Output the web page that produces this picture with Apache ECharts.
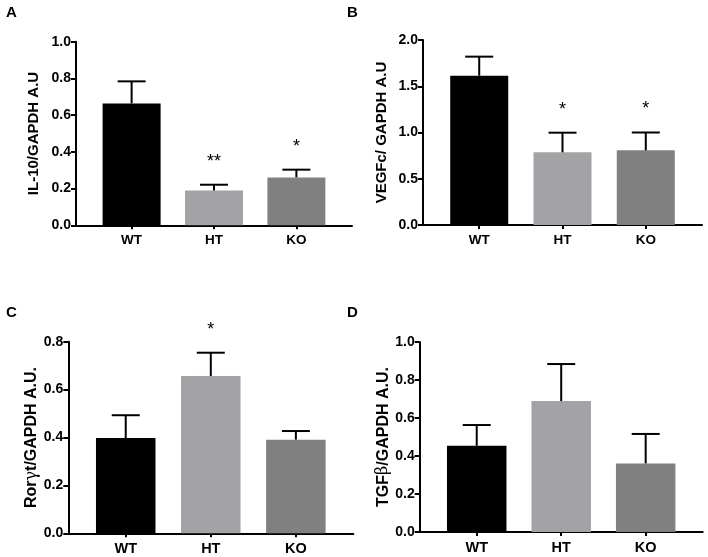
<!DOCTYPE html>
<html>
<head>
<meta charset="utf-8">
<script src="https://cdn.jsdelivr.net/npm/echarts@6/dist/echarts.min.js"></script>
<style>html,body{margin:0;padding:0;background:#fff}#c{width:708px;height:557px}</style>
</head>
<body>
<div id="c"></div>
<script>
const categories = ['WT', 'HT', 'KO'];
const barColors = ['#000000', '#a3a3a7', '#808080'];

const il10Mean = [0.664, 0.190, 0.261];
const il10Sem = [0.120, 0.031, 0.042];
const il10Stars = ['', '**', '*'];

const vegfMean = [1.614, 0.786, 0.807];
const vegfSem = [0.206, 0.212, 0.193];
const vegfStars = ['', '*', '*'];

const rorMean = [0.398, 0.657, 0.391];
const rorSem = [0.095, 0.097, 0.036];
const rorStars = ['', '*', ''];

const tgfMean = [0.454, 0.689, 0.361];
const tgfSem = [0.109, 0.195, 0.155];
const tgfStars = ['', '', ''];

const FONT = 'Liberation Sans, Arial, sans-serif';

const panels = [
  { letter: 'A', mean: il10Mean, sem: il10Sem, stars: il10Stars, max: 1.0, interval: 0.2,
    name: '{b|IL-10/GAPDH A.U}', grid: { left: 76, top: 41.7, width: 276, height: 183.6 },
    barWidth: 58, cap: 28, fs: 14, cfs: 13.5, tfs: 15, nameGap: 35, lx: 6, ly: 5 },
  { letter: 'B', mean: vegfMean, sem: vegfSem, stars: vegfStars, max: 2.0, interval: 0.5,
    name: '{b|VEGFc/ GAPDH A.U}', grid: { left: 423, top: 40, width: 279, height: 185 },
    barWidth: 58, cap: 28, fs: 14, cfs: 13.5, tfs: 15, nameGap: 34, lx: 347, ly: 5 },
  { letter: 'C', mean: rorMean, sem: rorSem, stars: rorStars, max: 0.8, interval: 0.2,
    name: '{b|Ror}{g|γ}{b|t/GAPDH A.U.}', grid: { left: 68.3, top: 341.7, width: 285, height: 191.6 },
    barWidth: 59.5, cap: 28, fs: 14, cfs: 14.5, tfs: 16, nameGap: 28, lx: 6, ly: 305 },
  { letter: 'D', mean: tgfMean, sem: tgfSem, stars: tgfStars, max: 1.0, interval: 0.2,
    name: '{b|TGF}{g|β}{b|/GAPDH A.U.}', grid: { left: 419.7, top: 342, width: 283, height: 190 },
    barWidth: 59.5, cap: 28, fs: 14, cfs: 14.5, tfs: 16, nameGap: 26, lx: 347, ly: 305 }
];

const PAD = 0.675;
const option = {
  animation: false,
  backgroundColor: '#ffffff',
  title: [], grid: [], xAxis: [], yAxis: [], series: []
};

panels.forEach((p, i) => {
  option.title.push({ text: p.letter, left: p.lx, top: p.ly, padding: 0,
    textStyle: { fontFamily: FONT, fontWeight: 'bold', fontSize: 15, color: '#000' } });
  option.grid.push(Object.assign({ containLabel: false }, p.grid));
  const idx = categories.map((c, k) => k + 1);
  option.xAxis.push({
    type: 'value', gridIndex: i, min: 1 - PAD, max: categories.length + PAD,
    axisLine: { show: true, lineStyle: { color: '#000', width: 2 } },
    axisTick: { show: true, customValues: idx, length: 4, lineStyle: { color: '#000', width: 2 } },
    axisLabel: { customValues: idx, formatter: v => categories[Math.round(v) - 1] || '',
      fontFamily: FONT, fontWeight: 'bold', fontSize: p.cfs, color: '#000', margin: 8 },
    splitLine: { show: false }
  });
  option.yAxis.push({
    type: 'value', gridIndex: i, min: 0, max: p.max, interval: p.interval,
    name: p.name, nameLocation: 'middle', nameRotate: 90, nameGap: p.nameGap,
    nameTextStyle: { rich: {
      b: { fontFamily: FONT, fontWeight: 'bold', fontSize: p.tfs, color: '#000' },
      g: { fontFamily: 'DejaVu Serif, serif', fontWeight: 'normal', fontSize: p.tfs, color: '#000' } } },
    axisLine: { show: true, lineStyle: { color: '#000', width: 2 } },
    axisTick: { show: true, length: 5, lineStyle: { color: '#000', width: 2 } },
    axisLabel: { formatter: v => v.toFixed(1), fontFamily: FONT, fontWeight: 'bold',
      fontSize: p.fs, color: '#000', margin: 5 },
    splitLine: { show: false }
  });
  option.series.push({
    type: 'bar', xAxisIndex: i, yAxisIndex: i, barWidth: p.barWidth,
    data: p.mean.map((m, k) => ({ value: [k + 1, m], itemStyle: { color: barColors[k] } }))
  });
  option.series.push({
    type: 'custom', xAxisIndex: i, yAxisIndex: i, z: 5,
    data: p.mean.map((m, k) => [k + 1, m, p.sem[k]]),
    encode: { x: 0, y: 1 },
    renderItem: (params, api) => {
      const x = api.value(0), m = api.value(1), s = api.value(2);
      const p0 = api.coord([x, m]);
      const p1 = api.coord([x, m + s]);
      const h = p.cap / 2;
      const st = { stroke: '#000', lineWidth: 2 };
      const children = [
        { type: 'line', shape: { x1: p0[0], y1: p0[1], x2: p1[0], y2: p1[1] }, style: st },
        { type: 'line', shape: { x1: p1[0] - h, y1: p1[1], x2: p1[0] + h, y2: p1[1] }, style: st }
      ];
      const star = p.stars[params.dataIndex];
      if (star) {
        children.push({ type: 'text', x: p1[0], y: p1[1] - 23,
          style: { text: star, fill: '#000', font: '18px ' + FONT, align: 'center', verticalAlign: 'middle' } });
      }
      return { type: 'group', children };
    }
  });
});

const chart = echarts.init(document.getElementById('c'), null, { renderer: 'canvas' });
chart.setOption(option);
</script>
</body>
</html>
